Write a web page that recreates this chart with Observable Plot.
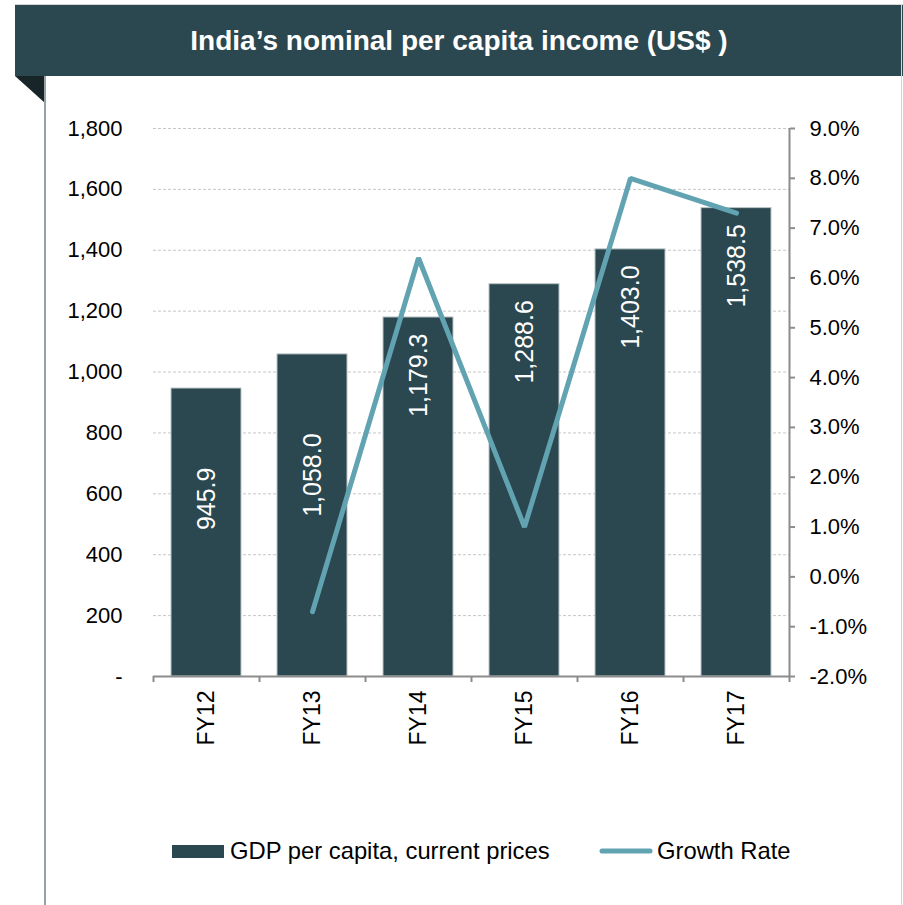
<!DOCTYPE html>
<html>
<head>
<meta charset="utf-8">
<script src="https://cdn.jsdelivr.net/npm/d3@7"></script>
<script src="https://cdn.jsdelivr.net/npm/@observablehq/plot@0.6"></script>
<style>
  html, body { margin: 0; padding: 0; background: #fff; }
  #wrap { position: relative; width: 903px; height: 905px; overflow: hidden; font-family: "Liberation Sans", Arial, sans-serif; }
  #topline { position: absolute; left: 15px; top: 4px; width: 888px; height: 1px; background: #d6d6d6; }
  #banner { position: absolute; left: 15px; top: 5px; width: 888px; height: 71px; background: #2b474f;
            color: #fff; font-weight: bold; font-size: 28px; line-height: 71px; text-align: center; }
  #fold { position: absolute; left: 15px; top: 76px; width: 30px; height: 27px; background: #172529;
          clip-path: polygon(0 0, 100% 0, 100% 100%); }
  #leftline { position: absolute; left: 44px; top: 76px; width: 2px; height: 829px; background: #95a3a8; }
  #rightline { position: absolute; left: 901px; top: 5px; width: 1px; height: 900px; background: #d4d4d4; }
  #chart { position: absolute; left: 0; top: 76px; }
  #legend { position: absolute; left: 0; top: 820px; }
</style>
</head>
<body>
<div id="wrap">
  <div id="topline"></div>
  <div id="banner">India’s nominal per capita income (US$ )</div>
  <div id="fold"></div>
  <div id="leftline"></div>
  <div id="rightline"></div>
  <div id="chart"></div>
  <div id="legend"></div>
</div>
<script>
// ---- data ----
const categories = ["FY12", "FY13", "FY14", "FY15", "FY16", "FY17"];
const gdpPerCapita = [945.9, 1058.0, 1179.3, 1288.6, 1403.0, 1538.5];
const growthRate = [null, -0.7, 6.4, 1.0, 8.0, 7.3];
const leftTicks = [0, 200, 400, 600, 800, 1000, 1200, 1400, 1600, 1800];
const rightTicks = [-2, -1, 0, 1, 2, 3, 4, 5, 6, 7, 8, 9];
const seriesNames = ["GDP per capita, current prices", "Growth Rate"];

// ---- styles ----
const barColor = "#2b474f";
const lineColor = "#62a3b2";
const axisColor = "#8c8c8c";
const font = "Liberation Sans, Arial, sans-serif";

// secondary axis mapping onto primary scale
const yMax = leftTicks[leftTicks.length - 1];
const gMin = rightTicks[0], gMax = rightTicks[rightTicks.length - 1];
const toY = g => (g - gMin) / (gMax - gMin) * yMax;
const fromY = v => v / yMax * (gMax - gMin) + gMin;

const data = categories.map((c, i) => ({c, i, gdp: gdpPerCapita[i], growth: growthRate[i]}));
const fmtVal = d3.format(",.1f");
const fmtLeft = d3.format(",");

const chart = Plot.plot({
  width: 903,
  height: 700,
  marginTop: 52,
  marginBottom: 100,
  marginLeft: 153,
  marginRight: 114,
  x: {domain: [0, categories.length], axis: null},
  y: {domain: [0, yMax], axis: null},
  style: {fontFamily: font, background: "transparent", color: "#000"},
  marks: [
    Plot.ruleY(leftTicks.slice(1), {stroke: "#c6c6c6", strokeDasharray: "3,2", strokeWidth: 1}),
    Plot.rectY(data, {x1: d => d.i, x2: d => d.i + 1, y: "gdp", fill: barColor,
                      stroke: "#b9c5c8", strokeWidth: 1, insetLeft: 18, insetRight: 18}),
    Plot.ruleY([0], {stroke: axisColor, strokeWidth: 2}),
    Plot.ruleX([categories.length], {y1: 0, y2: yMax, stroke: axisColor, strokeWidth: 2}),
    Plot.axisX({ticks: d3.range(categories.length + 1), tickSize: 6, tickFormat: () => "",
                stroke: axisColor, strokeWidth: 2, label: null}),
    Plot.axisX({ticks: d3.range(categories.length).map(i => i + 0.5), tickSize: 0, tickPadding: 14,
                tickRotate: -90, textAnchor: "end", lineAnchor: "middle", label: null,
                tickFormat: d => categories[Math.floor(d)], fontSize: 23, fill: "#000"}),
    Plot.axisY({ticks: leftTicks, anchor: "left", tickSize: 0, tickPadding: 31, label: null,
                tickFormat: d => d === 0 ? "-" : fmtLeft(d), fontSize: 22, fill: "#000"}),
    Plot.axisY({ticks: rightTicks.map(toY), anchor: "right", tickSize: 5, tickPadding: 15, label: null,
                tickFormat: d => (Math.round(fromY(d) * 10) / 10).toFixed(1) + "%",
                fontSize: 22, fill: "#000", stroke: axisColor, strokeWidth: 2}),
    Plot.line(data.filter(d => d.growth != null), {x: d => d.i + 0.5, y: d => toY(d.growth),
                stroke: lineColor, strokeWidth: 5, strokeLinecap: "round", strokeLinejoin: "miter"}),
    Plot.text(data.filter(d => d.i >= 2), {x: d => d.i + 0.5, y: "gdp", text: d => fmtVal(d.gdp),
                rotate: -90, textAnchor: "end", lineAnchor: "middle", dy: 16,
                fill: "#fff", fontSize: 25}),
    Plot.text(data.filter(d => d.i < 2), {x: d => d.i + 0.5, y: "gdp", text: d => fmtVal(d.gdp),
                rotate: -90, textAnchor: "end", lineAnchor: "middle", dy: 79,
                fill: "#fff", fontSize: 25})
  ]
});
document.getElementById("chart").appendChild(chart);

// ---- legend ----
const svgNS = "http://www.w3.org/2000/svg";
const lg = document.createElementNS(svgNS, "svg");
lg.setAttribute("width", 903);
lg.setAttribute("height", 60);
lg.innerHTML = `
  <rect x="172" y="25" width="52" height="13" fill="${barColor}"></rect>
  <text x="230" y="39" font-family="${font}" font-size="23.8" fill="#000">${seriesNames[0]}</text>
  <line x1="602" y1="31" x2="650" y2="31" stroke="${lineColor}" stroke-width="5" stroke-linecap="round"></line>
  <text x="657" y="39" font-family="${font}" font-size="23.8" fill="#000">${seriesNames[1]}</text>`;
document.getElementById("legend").appendChild(lg);
</script>
</body>
</html>
